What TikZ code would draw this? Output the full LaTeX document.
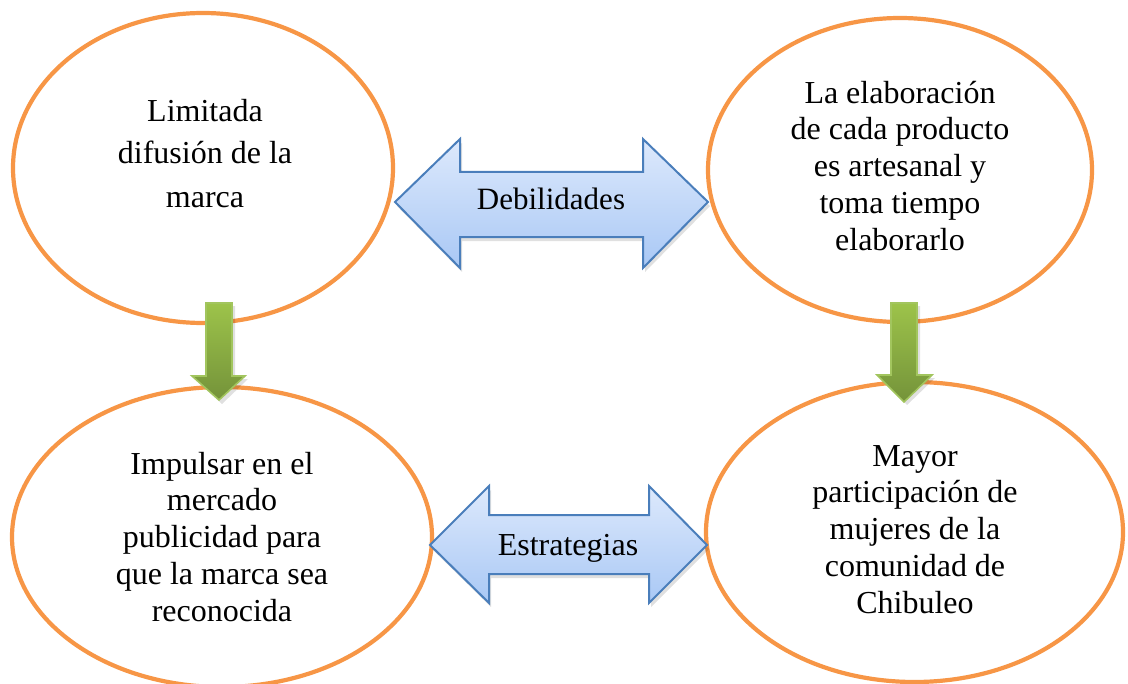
\documentclass[tikz,border=0pt]{standalone}
\usepackage{fontspec}
\setmainfont{Liberation Serif}
\usetikzlibrary{shapes.geometric}
\definecolor{orng}{HTML}{F79646}
\definecolor{blueA}{HTML}{DDE9FC}
\definecolor{blueB}{HTML}{A9C8F5}
\definecolor{blueD}{HTML}{4A7EBB}
\definecolor{grnA}{HTML}{9DC34A}
\definecolor{grnB}{HTML}{74933A}
\definecolor{grnD}{HTML}{A2C55E}
\tikzset{
  ell/.style={ellipse, draw=orng, line width=2.1pt, fill=white, inner sep=0pt},
  txt/.style={align=center, font=\fontsize{16pt}{18.35pt}\selectfont, inner sep=0pt, anchor=base},
  lbl/.style={font=\fontsize{15.5pt}{18pt}\selectfont, inner sep=0pt, anchor=base},
  dblarrow/.style={top color=blueA, bottom color=blueB, draw=blueD, line width=1pt, line join=miter},
  downarrow/.style={top color=grnA, bottom color=grnB, draw=grnD, line width=0.8pt, line join=miter},
  shadowbox/.style={fill=black, opacity=0.12}
}
\begin{document}
\begin{tikzpicture}[x=0.5pt,y=-0.5pt]
\useasboundingbox (0,0) rectangle (1128,684);
\begin{scope}
\clip (0,0) rectangle (1128,684);
% ellipses
\node[ell, minimum width=190pt, minimum height=155pt] (e1) at (203,168) {};
\node[ell, minimum width=192pt, minimum height=152pt] (e2) at (900,170) {};
\node[ell, minimum width=210pt, minimum height=150pt] (e3) at (222,537) {};
\node[ell, minimum width=208.5pt, minimum height=150pt] (e4) at (914.5,532) {};

% texts (anchor=base is the baseline of the last line)
\node[txt, font=\fontsize{16pt}{21.5pt}\selectfont] (t1) at (205,207) {Limitada\\difusión de la\\marca};
\node[txt] (t2) at (900,250) {La elaboración\\de cada producto\\es artesanal y\\toma tiempo\\elaborarlo};
\node[txt] (t3) at (222,621) {Impulsar en el\\mercado\\publicidad para\\que la marca sea\\reconocida};
\node[txt] (t4) at (915,613) {Mayor\\participación de\\mujeres de la\\comunidad de\\Chibuleo};

% top double arrow (Debilidades)
\fill[shadowbox] (397,206) -- (462,143) -- (462,176) -- (645,176) -- (645,143) -- (710,206) -- (645,272) -- (645,241) -- (462,241) -- (462,272) -- cycle;
\shade[dblarrow] (395,202) -- (460,139) -- (460,172) -- (643,172) -- (643,139) -- (708,202) -- (643,268) -- (643,237) -- (460,237) -- (460,268) -- cycle;
\node[lbl] (deb) at (551,210) {Debilidades};

% bottom double arrow (Estrategias)
\fill[shadowbox] (432,549) -- (491,490) -- (491,519) -- (651,519) -- (651,490) -- (709,549) -- (651,607) -- (651,578) -- (491,578) -- (491,607) -- cycle;
\shade[dblarrow] (430,545) -- (489,486) -- (489,515) -- (649,515) -- (649,486) -- (707,545) -- (649,603) -- (649,574) -- (489,574) -- (489,603) -- cycle;
\node[lbl, font=\fontsize{16pt}{18pt}\selectfont] (est) at (568,555) {Estrategias};

% green down arrows
\fill[shadowbox] (209,306) -- (235,306) -- (235,379) -- (248,379) -- (222,404) -- (195,379) -- (209,379) -- cycle;
\shade[downarrow] (206,303) -- (232,303) -- (232,376) -- (245,376) -- (219,400) -- (192,376) -- (206,376) -- cycle;
\fill[shadowbox] (894,306) -- (920,306) -- (920,378) -- (935,378) -- (907,405) -- (880,378) -- (894,378) -- cycle;
\shade[downarrow] (891,303) -- (917,303) -- (917,375) -- (932,375) -- (904,402) -- (877,375) -- (891,375) -- cycle;
\end{scope}
\end{tikzpicture}
\end{document}
